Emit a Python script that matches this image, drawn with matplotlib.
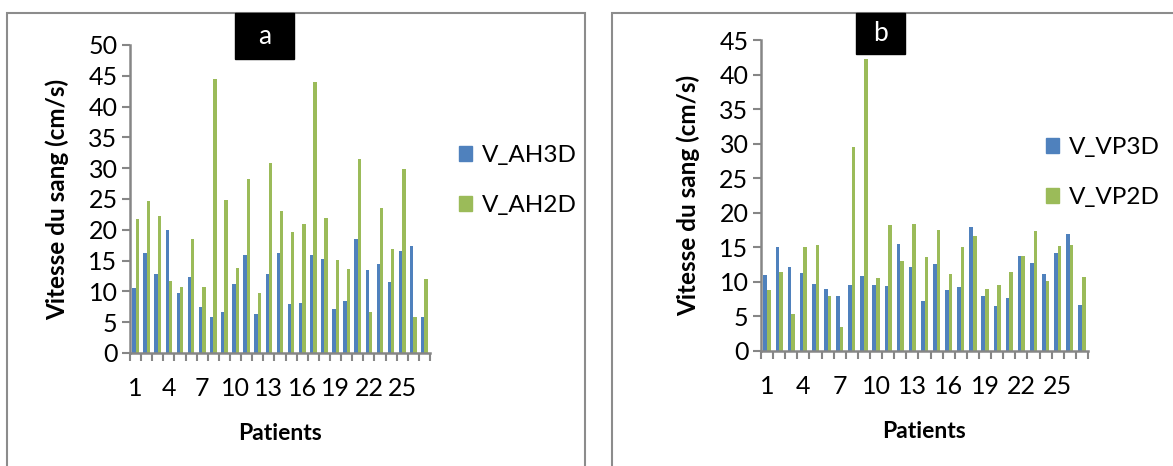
import numpy as np
import matplotlib
matplotlib.use("Agg")
import matplotlib.pyplot as plt
from matplotlib.patches import Rectangle, Patch

patients = np.arange(1, 28)

# panel a
v_ah3d = [10.6, 16.2, 12.9, 19.9, 9.8, 12.3, 7.4, 5.9, 6.6, 11.2, 15.9, 6.4, 12.9, 16.3,
          7.9, 8.1, 15.9, 15.3, 7.2, 8.5, 18.5, 13.5, 14.5, 11.5, 16.6, 17.3, 5.8]
v_ah2d = [21.8, 24.6, 22.2, 11.7, 10.7, 18.5, 10.7, 44.5, 24.9, 13.8, 28.2, 9.7, 30.8, 23.1,
          19.7, 21.0, 44.0, 21.9, 15.1, 13.7, 31.5, 6.6, 23.5, 16.9, 29.9, 5.9, 12.0]

# panel b
v_vp3d = [11.0, 15.0, 12.1, 11.3, 9.7, 9.0, 7.9, 9.5, 10.8, 9.6, 9.4, 15.5, 12.1, 7.3,
          12.6, 8.8, 9.2, 17.9, 7.9, 6.5, 7.6, 13.8, 12.8, 11.1, 14.2, 17.0, 6.6]
v_vp2d = [8.8, 11.4, 5.4, 15.0, 15.3, 8.0, 3.5, 29.5, 42.2, 10.6, 18.2, 13.0, 18.4, 13.6,
          17.5, 11.1, 15.1, 16.7, 8.9, 9.5, 11.5, 13.7, 17.3, 10.1, 15.2, 15.3, 10.7]

tick_pos = [1, 4, 7, 10, 13, 16, 19, 22, 25]

BLUE = "#4F81BD"
GREEN = "#9BBB59"
AXC = "#868686"

plt.rcParams["font.family"] = ["Lato", "DejaVu Sans"]

W, H = 1173, 466
fig = plt.figure(figsize=(W / 100, H / 100), dpi=100)


def px_axes(x0, y0, x1, y1):
    return fig.add_axes([x0 / W, 1 - y1 / H, (x1 - x0) / W, (y1 - y0) / H])


def draw_panel(ax, s3d, s2d, names, ymax, letter, box, legend_xy):
    w = 0.3
    ax.bar(patients - w / 2, s3d, width=w, color=BLUE, label=names[0])
    ax.bar(patients + w / 2, s2d, width=w, color=GREEN, label=names[1])
    ax.set_xlim(0.5, 27.5)
    ax.set_ylim(0, ymax)
    ax.set_yticks(np.arange(0, ymax + 1, 5))
    for s in ["top", "right"]:
        ax.spines[s].set_visible(False)
    for s in ["left", "bottom"]:
        ax.spines[s].set_color(AXC)
        ax.spines[s].set_linewidth(1.8)
    ax.set_xticks(np.arange(0.5, 28, 1))
    ax.set_xticklabels([])
    ax.set_xticks(tick_pos, minor=True)
    ax.set_xticklabels([str(p) for p in tick_pos], minor=True)
    ax.tick_params(axis="x", which="major", direction="out", length=6, width=1.5, color=AXC)
    ax.tick_params(axis="x", which="minor", length=0, pad=17, labelsize=18)
    ax.tick_params(axis="y", direction="out", length=6, width=1.5, color=AXC,
                   labelsize=18, pad=3)
    ax.set_xlabel("Patients", fontsize=16.5, fontweight="bold", labelpad=17)
    ax.set_ylabel("Vitesse du sang (cm/s)", fontsize=17.5, fontweight="bold", labelpad=14)

    bx0, by0, bx1, by1 = box
    fig.patches.append(Rectangle((bx0 / W, 1 - by1 / H), (bx1 - bx0) / W, (by1 - by0) / H,
                                 transform=fig.transFigure, color="black", zorder=5))
    fig.text((bx0 + bx1) / 2 / W, 1 - (by0 + by1) / 2 / H, letter, color="white",
             fontsize=19, ha="center", va="center", zorder=6)

    handles = [Patch(color=BLUE), Patch(color=GREEN)]
    fig.legend(handles, names, loc="upper left",
               bbox_to_anchor=(legend_xy[0] / W, 1 - legend_xy[1] / H),
               frameon=False, fontsize=17.5, handlelength=0.55, handleheight=0.55,
               handletextpad=0.4, labelspacing=1.2, borderaxespad=0, borderpad=0)


# panel frames
fig.patches.append(Rectangle((7 / W, -0.1), (585 - 7) / W, 1 - 13 / H + 0.1,
                             transform=fig.transFigure, fill=False, ec="#8C8C8C", lw=1.5))
fig.patches.append(Rectangle((612 / W, -0.1), 0.5, 1 - 13 / H + 0.1,
                             transform=fig.transFigure, fill=False, ec="#8C8C8C", lw=1.5))

ax1 = px_axes(130, 45, 430, 353)
draw_panel(ax1, v_ah3d, v_ah2d, ["V_AH3D", "V_AH2D"], 50, "a", (235, 13, 294, 59), (459, 145))

ax2 = px_axes(761, 40, 1088, 351)
draw_panel(ax2, v_vp3d, v_vp2d, ["V_VP3D", "V_VP2D"], 45, "b", (856, 13, 905, 54), (1046, 137))

fig.savefig("out.png", dpi=100)
